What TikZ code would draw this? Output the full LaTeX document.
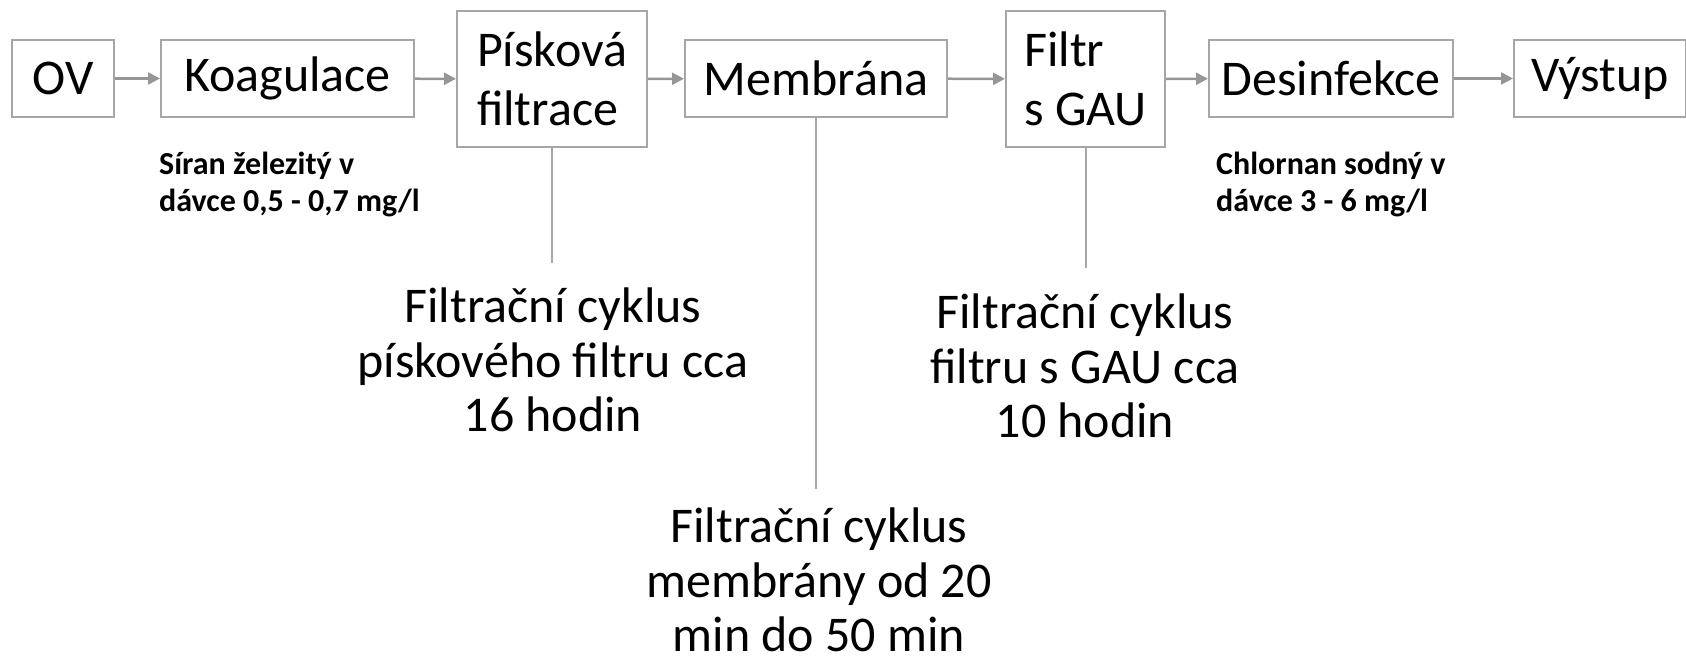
\documentclass[tikz,border=0pt]{standalone}
\usepackage{fontspec}
\setmainfont{Carlito}
\usetikzlibrary{arrows.meta}
\definecolor{boxgray}{RGB}{166,166,166}
\definecolor{arrgray}{RGB}{150,150,150}
\begin{document}
\begin{tikzpicture}[x=1pt,y=-1pt,
 stage/.style={draw=boxgray, line width=2pt, minimum height=77pt, inner sep=0pt, font=\fontsize{50}{59}\selectfont},
 tallstage/.style={stage, minimum height=136pt, align=left},
 flow/.style={draw=arrgray, line width=2.5pt, -{Triangle[length=12pt,width=12pt]}},
 lead/.style={draw=boxgray, line width=2pt},
 note/.style={align=center, inner sep=0pt, font=\fontsize{50}{54.5}\selectfont},
 dose/.style={align=left, inner sep=0pt, anchor=west, font=\bfseries\fontsize{32}{37}\selectfont}]
\useasboundingbox (0,0) rectangle (1686,661);

\node[stage, minimum width=102pt] (ov) at (63,78.5) {OV};
\node[stage, minimum width=253pt] (ko) at (287.5,78.5) {Koagulace};
\node[tallstage, minimum width=190pt] (pf) at (552,79) {Písková\\filtrace};
\node[stage, minimum width=262pt] (mb) at (816,78.5) {Membrána};
\node[tallstage, minimum width=159pt] (fg) at (1085.5,79) {Filtr\\s GAU};
\node[stage, minimum width=244pt] (ds) at (1331,78.5) {Desinfekce};
\node[stage, minimum width=172pt] (vy) at (1600,78.5) {Výstup};

\draw[flow] (ov) -- (ko);
\draw[flow] (ko) -- (pf);
\draw[flow] (pf) -- (mb);
\draw[flow] (mb) -- (fg);
\draw[flow] (fg) -- (ds);
\draw[flow] (ds) -- (vy);

\coordinate (pfend) at (553,263);
\coordinate (mbend) at (819,489);
\coordinate (fgend) at (1085,268);
\draw[lead] (pf.south) -- (pf.south |- pfend);
\draw[lead] (mb.south) -- (mb.south |- mbend);
\draw[lead] (fg.south) -- (fg.south |- fgend);

\node[dose] (sir) at (159,184.5) {Síran železitý v\\dávce 0,5 - 0,7 mg/l};
\node[dose] (chl) at (1216,184.5) {Chlornan sodný v\\dávce 3 - 6 mg/l};

\node[note] (pfn) at (553,360) {Filtrační cyklus\\pískového filtru cca\\16 hodin};
\node[note] (fgn) at (1085,366) {Filtrační cyklus\\filtru s GAU cca\\10 hodin};
\node[note] (mbn) at (819,580) {Filtrační cyklus\\membrány od 20\\min do 50 min};
\end{tikzpicture}
\end{document}
